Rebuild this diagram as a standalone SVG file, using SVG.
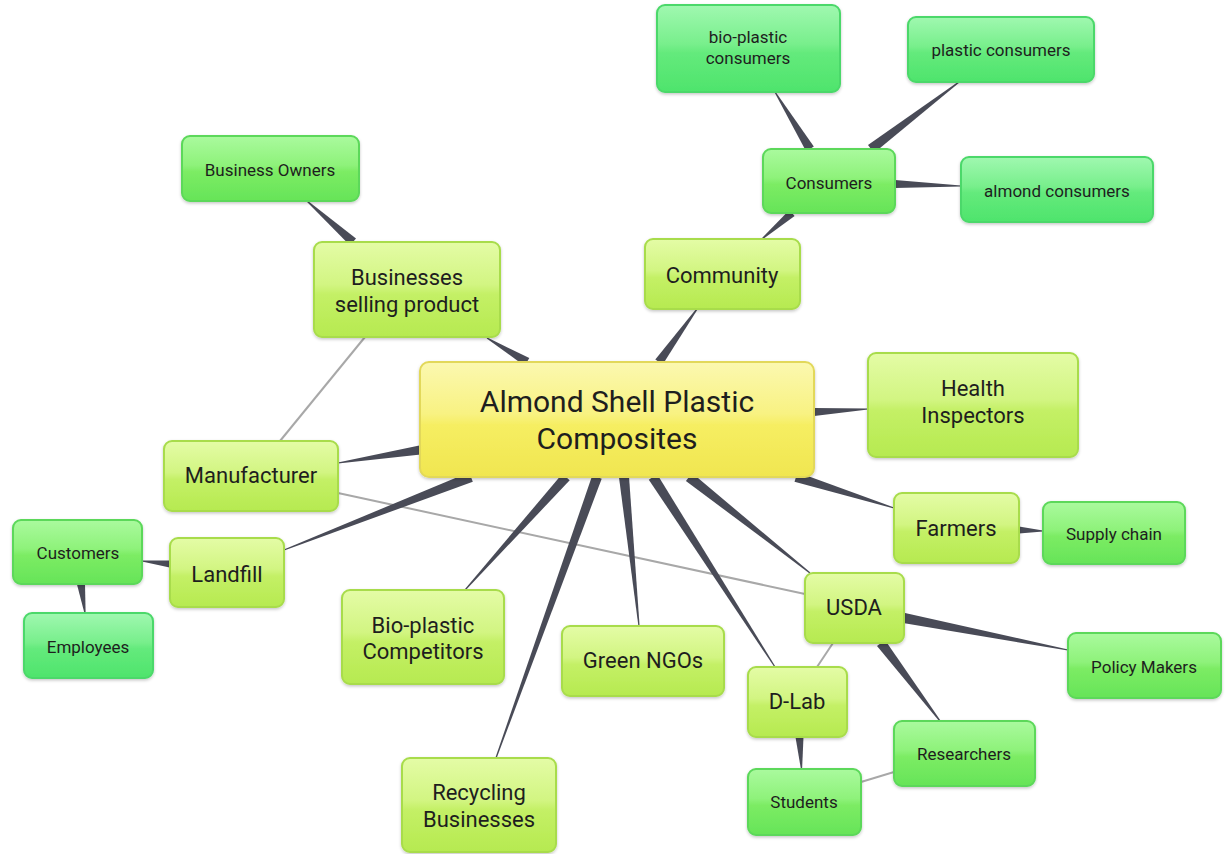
<svg xmlns="http://www.w3.org/2000/svg" width="1228" height="854" viewBox="0 0 1228 854">
<defs>
<linearGradient id="gY" x1="0" y1="0" x2="0" y2="1"><stop offset="0" stop-color="#fbf8b0"/><stop offset="0.45" stop-color="#f8f282"/><stop offset="0.55" stop-color="#f6ee62"/><stop offset="1" stop-color="#f0e650"/></linearGradient>
<linearGradient id="gL" x1="0" y1="0" x2="0" y2="1"><stop offset="0" stop-color="#e4fca6"/><stop offset="0.45" stop-color="#d2f582"/><stop offset="0.55" stop-color="#c4f066"/><stop offset="1" stop-color="#b6ea50"/></linearGradient>
<linearGradient id="gG" x1="0" y1="0" x2="0" y2="1"><stop offset="0" stop-color="#aafa9e"/><stop offset="0.45" stop-color="#8ef27a"/><stop offset="0.55" stop-color="#7cec64"/><stop offset="1" stop-color="#66e458"/></linearGradient>
<linearGradient id="gT" x1="0" y1="0" x2="0" y2="1"><stop offset="0" stop-color="#a0f8b0"/><stop offset="0.45" stop-color="#78ef8c"/><stop offset="0.55" stop-color="#64ea7c"/><stop offset="1" stop-color="#4ee46c"/></linearGradient>
<filter id="sh" x="-10%" y="-10%" width="120%" height="130%"><feDropShadow dx="0" dy="1.5" stdDeviation="1.5" flood-color="#000" flood-opacity="0.22"/></filter>
</defs>
<style>
rect{stroke-width:2;filter:url(#sh)}
.y rect{fill:url(#gY);stroke:#e2d85a}
.l rect{fill:url(#gL);stroke:#a8dc4c}
.g rect{fill:url(#gG);stroke:#5cd85a}
.t rect{fill:url(#gT);stroke:#4cd86a}
text{font-family:Roboto,"Liberation Sans",sans-serif;fill:#1e1e1e;text-anchor:middle}
.y text{font-size:30px}
.l text{font-size:22px}
.g text,.t text{font-size:17px}
.w{fill:#494b57}
.gl{stroke:#a8a8a8;stroke-width:2;fill:none}
</style>
<g id="connectors">
<line class="gl" x1="365" y1="337" x2="280" y2="441"/>
<line class="gl" x1="338" y1="493" x2="805" y2="594"/>
<line class="gl" x1="833" y1="643" x2="817" y2="667"/>
<line class="gl" x1="861" y1="782" x2="894" y2="772"/>
<polygon class="w" points="529.3,358.1 487.3,337.5 486.7,338.5 524.7,365.9"/>
<polygon class="w" points="662.7,364.6 697.5,309.4 696.5,308.6 655.3,359.4"/>
<polygon class="w" points="814.2,416 868,409.6 868,408.4 813.8,408"/>
<polygon class="w" points="794.5,481.8 893.8,508.6 894.2,507.4 797.5,472.2"/>
<polygon class="w" points="685.9,480.9 809.6,573.5 810.4,572.5 692.1,473.1"/>
<polygon class="w" points="648.8,479.7 774.5,667.3 775.5,666.7 657.2,474.3"/>
<polygon class="w" points="619,477.5 638.4,626.1 639.6,625.9 629,476.5"/>
<polygon class="w" points="592.3,475.3 495.4,757.8 496.6,758.2 601.7,478.7"/>
<polygon class="w" points="562.3,473.7 464.6,589.6 465.4,590.4 569.7,480.3"/>
<polygon class="w" points="469.2,472.3 283.8,549.4 284.2,550.6 472.8,481.7"/>
<polygon class="w" points="419.3,445.6 337.9,462.4 338.1,463.6 420.7,454.4"/>
<polygon class="w" points="356,238.6 307.4,200.6 306.6,201.4 350,245.4"/>
<polygon class="w" points="789.4,210 761.6,238.5 762.4,239.5 794.6,216"/>
<polygon class="w" points="813.8,146.6 775.5,91.7 774.5,92.3 806.2,151.4"/>
<polygon class="w" points="874,153 959.4,82.5 958.6,81.5 868,145"/>
<polygon class="w" points="895,188 961,186.6 961,185.4 895,180"/>
<polygon class="w" points="170.4,560.5 142.1,560.4 141.9,561.6 169.6,567.5"/>
<polygon class="w" points="77,584.5 84.4,613.1 85.6,612.9 85,583.5"/>
<polygon class="w" points="1019,533.5 1043,531.6 1043,530.4 1019,526.5"/>
<polygon class="w" points="903,622.9 1067.9,650.6 1068.1,649.4 905,613.1"/>
<polygon class="w" points="877,646 939.5,721.4 940.5,720.6 885,640"/>
<polygon class="w" points="795.5,737.2 800.9,769 802.1,769 803.5,736.8"/>
</g>
<g id="n-central" class="y"><rect x="420" y="362" width="394" height="115" rx="9"/><text x="617" y="412">Almond Shell Plastic</text><text x="617" y="449">Composites</text></g>
<g id="n-businesses" class="l"><rect x="314" y="242" width="186" height="95" rx="8"/><text x="407" y="285">Businesses</text><text x="407" y="312">selling product</text></g>
<g id="n-community" class="l"><rect x="645" y="239" width="155" height="70" rx="8"/><text x="722" y="283">Community</text></g>
<g id="n-health" class="l"><rect x="868" y="353" width="210" height="104" rx="8"/><text x="973" y="396">Health</text><text x="973" y="423">Inspectors</text></g>
<g id="n-farmers" class="l"><rect x="894" y="493" width="125" height="70" rx="8"/><text x="956" y="536">Farmers</text></g>
<g id="n-usda" class="l"><rect x="805" y="573" width="99" height="70" rx="8"/><text x="854" y="615">USDA</text></g>
<g id="n-dlab" class="l"><rect x="748" y="667" width="99" height="70" rx="8"/><text x="797" y="709">D-Lab</text></g>
<g id="n-ngos" class="l"><rect x="562" y="626" width="162" height="70" rx="8"/><text x="643" y="668">Green NGOs</text></g>
<g id="n-biocomp" class="l"><rect x="342" y="590" width="162" height="94" rx="8"/><text x="423" y="633">Bio-plastic</text><text x="423" y="659">Competitors</text></g>
<g id="n-recycling" class="l"><rect x="402" y="758" width="154" height="94" rx="8"/><text x="479" y="800">Recycling</text><text x="479" y="827">Businesses</text></g>
<g id="n-landfill" class="l"><rect x="170" y="538" width="114" height="69" rx="8"/><text x="227" y="582">Landfill</text></g>
<g id="n-manufacturer" class="l"><rect x="164" y="441" width="174" height="70" rx="8"/><text x="251" y="483">Manufacturer</text></g>
<g id="n-owners" class="g"><rect x="182" y="136" width="177" height="65" rx="8"/><text x="270" y="176">Business Owners</text></g>
<g id="n-consumers" class="g"><rect x="763" y="149" width="132" height="64" rx="8"/><text x="829" y="189">Consumers</text></g>
<g id="n-bioconsumers" class="t"><rect x="657" y="5" width="183" height="87" rx="8"/><text x="748" y="43">bio-plastic</text><text x="748" y="64">consumers</text></g>
<g id="n-plasticconsumers" class="t"><rect x="908" y="17" width="186" height="65" rx="8"/><text x="1001" y="56">plastic consumers</text></g>
<g id="n-almondconsumers" class="t"><rect x="961" y="157" width="192" height="65" rx="8"/><text x="1057" y="197">almond consumers</text></g>
<g id="n-supply" class="g"><rect x="1043" y="502" width="142" height="62" rx="8"/><text x="1114" y="540">Supply chain</text></g>
<g id="n-customers" class="g"><rect x="13" y="520" width="129" height="64" rx="8"/><text x="78" y="559">Customers</text></g>
<g id="n-employees" class="t"><rect x="24" y="613" width="129" height="65" rx="8"/><text x="88" y="653">Employees</text></g>
<g id="n-policy" class="g"><rect x="1068" y="633" width="153" height="65" rx="8"/><text x="1144" y="673">Policy Makers</text></g>
<g id="n-researchers" class="g"><rect x="894" y="721" width="141" height="65" rx="8"/><text x="964" y="760">Researchers</text></g>
<g id="n-students" class="g"><rect x="748" y="769" width="113" height="66" rx="8"/><text x="804" y="808">Students</text></g>
</svg>
